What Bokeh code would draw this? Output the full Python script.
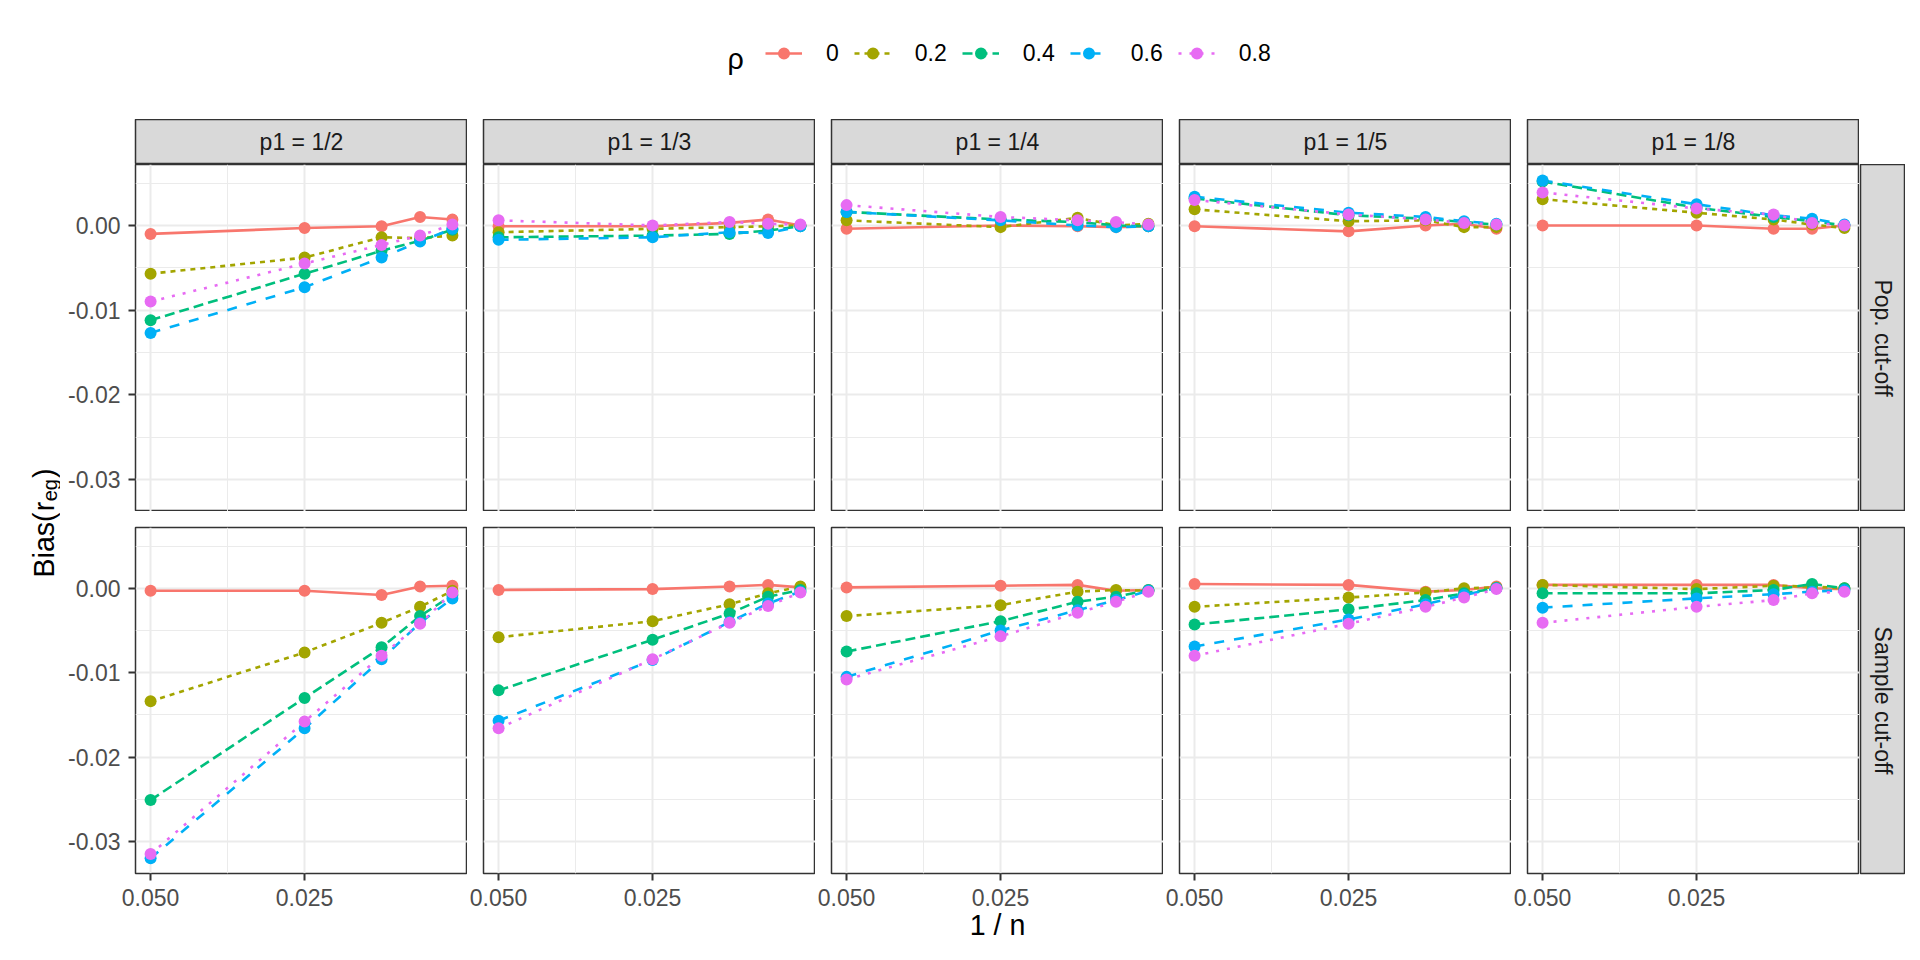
import numpy as np
from bokeh.plotting import figure
from bokeh.models import Range1d, FixedTicker, NumeralTickFormatter, Legend, LegendItem, Spacer
from bokeh.layouts import row, column
from bokeh.embed import file_html
from bokeh.resources import INLINE
from bokeh.core.properties import value

# ---------------- data ----------------
inv_n = [0.05, 0.025, 0.0125, 0.00625, 0.001]          # 1/n for n = 20, 40, 80, 160, 1000
rho_levels = ["0", "0.2", "0.4", "0.6", "0.8"]
p1_labels = ["p1 = 1/2", "p1 = 1/3", "p1 = 1/4", "p1 = 1/5", "p1 = 1/8"]
cutoff_labels = ["Pop. cut-off", "Sample cut-off"]
x_major = [0.05, 0.025]
x_minor = [0.0375]
y_major = [0.0, -0.01, -0.02, -0.03]
y_minor = [0.005, -0.005, -0.015, -0.025]

# rows: rho = 0, 0.2, 0.4, 0.6, 0.8 ; columns: inv_n
pop_p1_2 = [[-0.0010, -0.0003, -0.0001, 0.0010, 0.0007],
            [-0.0057, -0.0038, -0.0014, -0.0015, -0.0012],
            [-0.0112, -0.0057, -0.0030, -0.0018, -0.0005],
            [-0.0127, -0.0073, -0.0038, -0.0019, -0.0004],
            [-0.0090, -0.0045, -0.0023, -0.0012, 0.0001]]
pop_p1_3 = [[-0.0001, -0.0001, 0.0003, 0.0007, 0.0000],
            [-0.0008, -0.0004, -0.0002, -0.0001, 0.0000],
            [-0.0014, -0.0012, -0.0010, -0.0006, -0.0001],
            [-0.0017, -0.0014, -0.0008, -0.0009, -0.0001],
            [0.0006, 0.0000, 0.0004, 0.0002, 0.0001]]
pop_p1_4 = [[-0.0004, 0.0000, -0.0001, -0.0002, -0.0001],
            [0.0006, -0.0002, 0.0009, 0.0000, 0.0002],
            [0.0016, 0.0007, 0.0004, 0.0000, -0.0001],
            [0.0016, 0.0006, 0.0000, -0.0002, -0.0001],
            [0.0024, 0.0010, 0.0006, 0.0004, 0.0001]]
pop_p1_5 = [[-0.0001, -0.0007, 0.0000, 0.0002, -0.0004],
            [0.0019, 0.0005, 0.0006, -0.0002, -0.0002],
            [0.0032, 0.0012, 0.0008, 0.0004, 0.0001],
            [0.0034, 0.0015, 0.0010, 0.0005, 0.0002],
            [0.0030, 0.0013, 0.0007, 0.0003, 0.0001]]
pop_p1_8 = [[0.0000, 0.0000, -0.0004, -0.0004, 0.0000],
            [0.0031, 0.0015, 0.0007, 0.0001, -0.0003],
            [0.0052, 0.0021, 0.0010, 0.0005, 0.0000],
            [0.0053, 0.0025, 0.0012, 0.0008, 0.0001],
            [0.0039, 0.0020, 0.0013, 0.0003, 0.0000]]
smp_p1_2 = [[-0.0003, -0.0003, -0.0008, 0.0002, 0.0003],
            [-0.0134, -0.0076, -0.0041, -0.0022, -0.0003],
            [-0.0251, -0.0130, -0.0070, -0.0033, -0.0008],
            [-0.0320, -0.0166, -0.0084, -0.0041, -0.0012],
            [-0.0315, -0.0158, -0.0080, -0.0042, -0.0005]]
smp_p1_3 = [[-0.0002, -0.0001, 0.0002, 0.0004, 0.0001],
            [-0.0058, -0.0039, -0.0019, -0.0006, 0.0002],
            [-0.0121, -0.0061, -0.0030, -0.0010, -0.0002],
            [-0.0157, -0.0085, -0.0040, -0.0018, -0.0004],
            [-0.0166, -0.0084, -0.0041, -0.0021, -0.0005]]
smp_p1_4 = [[0.0001, 0.0003, 0.0004, -0.0003, -0.0002],
            [-0.0033, -0.0020, -0.0004, -0.0002, -0.0003],
            [-0.0075, -0.0039, -0.0016, -0.0010, -0.0002],
            [-0.0105, -0.0050, -0.0026, -0.0014, -0.0003],
            [-0.0108, -0.0057, -0.0029, -0.0016, -0.0004]]
smp_p1_5 = [[0.0005, 0.0004, -0.0004, -0.0002, 0.0002],
            [-0.0022, -0.0011, -0.0005, 0.0000, 0.0001],
            [-0.0043, -0.0025, -0.0014, -0.0006, 0.0000],
            [-0.0069, -0.0037, -0.0019, -0.0008, 0.0000],
            [-0.0080, -0.0042, -0.0022, -0.0011, -0.0001]]
smp_p1_8 = [[0.0004, 0.0004, 0.0004, 0.0000, -0.0001],
            [0.0004, -0.0001, 0.0003, 0.0002, 0.0000],
            [-0.0006, -0.0006, -0.0002, 0.0005, 0.0000],
            [-0.0023, -0.0012, -0.0007, -0.0004, -0.0002],
            [-0.0041, -0.0022, -0.0014, -0.0006, -0.0004]]

panels = [[pop_p1_2, pop_p1_3, pop_p1_4, pop_p1_5, pop_p1_8],
          [smp_p1_2, smp_p1_3, smp_p1_4, smp_p1_5, smp_p1_8]]

# ---------------- style ----------------
FONT = "Liberation Sans"
colors = ["#F8766D", "#A3A500", "#00BF7D", "#00B0F6", "#E76BF3"]
dashes = ["solid", "5 5", "10 5", "10 10", "3 8"]
LW = 2.6
PT = 12
X_RANGE = (0.05245, -0.00145)
Y_RANGE = (-0.0338, 0.0072)
BORDER = "#333333"
GRID = "#EBEBEB"
STRIP_FILL = "#D9D9D9"

LEFT_BORDER = 75
GAP = 16
FRAME_W = 332
ROW1_H = 347
ROW2_FRAME_H = 346
BOTTOM_AXIS = 80
STRIP_H = 45
RSTRIP_W = 45
YLAB_W = 60
LEG_H = 119


def blank(width, height, left=0, top=0, bottom=0, right=0, xr=(0, 1), yr=(0, 1)):
    p = figure(width=width, height=height, x_range=Range1d(*xr), y_range=Range1d(*yr),
               output_backend="svg", toolbar_location=None, title=None,
               x_axis_location=None, y_axis_location=None,
               min_border_left=left, min_border_right=right,
               min_border_top=top, min_border_bottom=bottom)
    p.grid.visible = False
    p.outline_line_color = None
    return p


def style_axis(ax):
    ax.axis_line_color = None
    ax.major_tick_line_color = BORDER
    ax.major_tick_line_width = 2
    ax.major_tick_out = 7
    ax.major_tick_in = 0
    ax.minor_tick_line_color = None
    ax.major_label_text_font = FONT
    ax.major_label_text_font_size = "23px"
    ax.major_label_text_color = "#4D4D4D"


def make_panel(series, r, c):
    left = c == 0
    bottom = r == 1
    w = (LEFT_BORDER if left else GAP) + FRAME_W
    h = ROW1_H if r == 0 else GAP + ROW2_FRAME_H + BOTTOM_AXIS
    p = figure(width=w, height=h, x_range=Range1d(*X_RANGE), y_range=Range1d(*Y_RANGE),
               output_backend="svg", toolbar_location=None, title=None,
               x_axis_location="below" if bottom else None,
               y_axis_location="left" if left else None,
               min_border_left=LEFT_BORDER if left else GAP, min_border_right=0,
               min_border_top=0 if r == 0 else GAP,
               min_border_bottom=BOTTOM_AXIS if bottom else 0)
    p.xgrid.ticker = FixedTicker(ticks=x_major, minor_ticks=x_minor)
    p.ygrid.ticker = FixedTicker(ticks=y_major, minor_ticks=y_minor)
    p.grid.grid_line_color = GRID
    p.grid.grid_line_width = 2
    p.grid.minor_grid_line_color = GRID
    p.grid.minor_grid_line_width = 1
    p.outline_line_color = BORDER
    p.outline_line_width = 1.5
    p.background_fill_color = "white"
    p.border_fill_color = "white"
    if bottom:
        p.xaxis.ticker = FixedTicker(ticks=x_major, minor_ticks=[])
        p.xaxis.formatter = NumeralTickFormatter(format="0.000")
        style_axis(p.xaxis[0])
        p.xaxis.major_label_standoff = 8
        if c == 2:
            p.xaxis.axis_label = "1 / n"
            p.xaxis.axis_label_text_font = FONT
            p.xaxis.axis_label_text_font_size = "28.6px"
            p.xaxis.axis_label_text_font_style = "normal"
            p.xaxis.axis_label_text_color = "black"
            p.xaxis.axis_label_standoff = 0
    if left:
        p.yaxis.ticker = FixedTicker(ticks=y_major, minor_ticks=[])
        p.yaxis.formatter = NumeralTickFormatter(format="0.00")
        style_axis(p.yaxis[0])
        p.yaxis.major_label_standoff = 8
    for i, ys in enumerate(series):
        p.line(inv_n, ys, line_color=colors[i], line_width=LW, line_dash=dashes[i])
    for i, ys in enumerate(series):
        p.scatter(inv_n, ys, size=PT, marker="circle", fill_color=colors[i],
                  line_color=colors[i], line_width=0)
    return p


def top_strip(label, c):
    left = LEFT_BORDER if c == 0 else GAP
    p = blank(left + FRAME_W, STRIP_H, left=left)
    p.background_fill_color = STRIP_FILL
    p.outline_line_color = BORDER
    p.outline_line_width = 1.5
    p.text(x=[0.5], y=[0.5], text=[label], text_align="center", text_baseline="middle",
           text_font=value(FONT), text_font_size=value("23px"), text_color="#1A1A1A")
    return p


def right_strip(label, r):
    if r == 0:
        p = blank(1 + RSTRIP_W, ROW1_H, left=1)
    else:
        p = blank(1 + RSTRIP_W, GAP + ROW2_FRAME_H + BOTTOM_AXIS, left=1, top=GAP, bottom=BOTTOM_AXIS)
    p.background_fill_color = STRIP_FILL
    p.outline_line_color = BORDER
    p.outline_line_width = 1.5
    p.text(x=[0.5], y=[0.5], text=[label], text_align="center", text_baseline="middle",
           angle=-np.pi / 2, text_font=value(FONT), text_font_size=value("23px"),
           text_color="#1A1A1A")
    return p


GRID_W = LEFT_BORDER + FRAME_W + 4 * (GAP + FRAME_W) + 1 + RSTRIP_W
TOTAL_W = YLAB_W + GRID_W

# ---------------- legend ----------------
leg = blank(TOTAL_W, LEG_H, xr=(0, TOTAL_W), yr=(LEG_H, 0))   # y measured from the top
items = []
for i, lab in enumerate(rho_levels):
    lr = leg.line(x=[np.nan], y=[np.nan], line_color=colors[i], line_width=LW, line_dash=dashes[i])
    sr = leg.scatter(x=[np.nan], y=[np.nan], size=PT, marker="circle", fill_color=colors[i],
                     line_color=colors[i], line_width=0)
    items.append(LegendItem(label=lab, renderers=[lr, sr]))
legend = Legend(items=items, orientation="horizontal", location=(765, 51),
                glyph_width=37, glyph_height=30, label_height=30, label_width=0,
                label_standoff=24, spacing=15, padding=0, margin=0,
                border_line_color=None, background_fill_alpha=0,
                label_text_font=FONT, label_text_font_size="23px", label_text_color="black")
leg.add_layout(legend)
leg.text(x=[727], y=[58], text=["ρ"], text_align="left", text_baseline="alphabetic",
         text_font=value(FONT), text_font_size=value("28.6px"), text_color="black")

# ---------------- grid of panels ----------------
strip_row = row([top_strip(p1_labels[c], c) for c in range(5)] + [Spacer(width=1 + RSTRIP_W, height=STRIP_H)])
row1 = row([make_panel(panels[0][c], 0, c) for c in range(5)] + [right_strip(cutoff_labels[0], 0)])
row2 = row([make_panel(panels[1][c], 1, c) for c in range(5)] + [right_strip(cutoff_labels[1], 1)])

BODY_H = STRIP_H + ROW1_H + GAP + ROW2_FRAME_H + BOTTOM_AXIS
ylab = blank(YLAB_W, BODY_H, xr=(0, YLAB_W), yr=(BODY_H, 0))   # y measured from the top
y0 = 458
main_fs = 28.6
sub_fs = 20.0
w_bias = 2.278 * main_fs
w_r = 0.333 * main_fs
w_eg = 1.112 * sub_fs
ylab.text(x=[43], y=[y0], text=["Bias("], angle=np.pi / 2, text_align="left",
          text_baseline="alphabetic", text_font=value(FONT),
          text_font_size=value(f"{main_fs}px"), text_color="black")
ylab.text(x=[43], y=[y0 - w_bias - 1], text=["r"], angle=np.pi / 2, text_align="left",
          text_baseline="alphabetic", text_font=value(FONT),
          text_font_size=value(f"{main_fs}px"), text_color="black")
ylab.text(x=[49], y=[y0 - w_bias - w_r - 1.5], text=["eg"], angle=np.pi / 2, text_align="left",
          text_baseline="alphabetic", text_font=value(FONT),
          text_font_size=value(f"{sub_fs}px"), text_color="black")
ylab.text(x=[43], y=[y0 - w_bias - w_r - w_eg - 2.5], text=[")"], angle=np.pi / 2,
          text_align="left", text_baseline="alphabetic", text_font=value(FONT),
          text_font_size=value(f"{main_fs}px"), text_color="black")

body = row(ylab, column(strip_row, row1, row2))
layout = column(leg, body)

open("out.html", "w").write(file_html(layout, INLINE))
